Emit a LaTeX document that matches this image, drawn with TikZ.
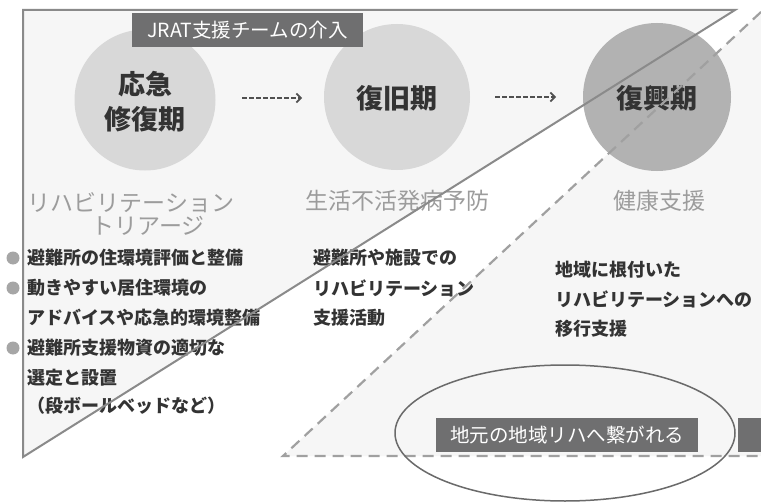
\documentclass[tikz,border=0pt]{standalone}
\usepackage{fontspec}
\setmainfont{Noto Sans CJK JP}
\usetikzlibrary{arrows.meta,shapes.geometric}
\definecolor{bgfill}{HTML}{F6F6F6}
\definecolor{circlight}{HTML}{D8D8D8}
\definecolor{circdark}{HTML}{B2B2B2}
\definecolor{darktext}{HTML}{333333}
\definecolor{graytext}{HTML}{9C9C9C}
\definecolor{labelbg}{HTML}{6F6F70}
\definecolor{framec}{HTML}{8A8A8A}
\definecolor{dashc}{HTML}{A0A0A0}
\definecolor{bulletc}{HTML}{A6A6A6}
\definecolor{ellc}{HTML}{6A6A6A}
\definecolor{arrowc}{HTML}{505050}
\begin{document}
\begin{tikzpicture}[x=1pt,y=-1pt,
  phase/.style={circle,draw=none,inner sep=0pt},
  phasetext/.style={text=darktext,font=\fontsize{27}{35}\selectfont\bfseries,align=center,inner sep=0pt},
  subtitle/.style={text=graytext,font=\fontsize{23}{26}\selectfont,inner sep=0pt},
  body/.style={text=darktext,font=\fontsize{18}{22}\selectfont\bfseries,anchor=west,inner sep=0pt},
  tag/.style={fill=labelbg,text=white,font=\fontsize{19.5}{22}\selectfont,inner sep=0pt,minimum height=34pt},
  flow/.style={draw=arrowc,line width=1.7pt,dash pattern=on 4.5pt off 2.5pt,-{Straight Barb[length=4.5pt,width=9pt,line width=1.7pt]}},
  solidframe/.style={draw=framec,line width=2pt,line join=miter},
  dashline/.style={draw=dashc,line width=2.2pt,dash pattern=on 11pt off 7pt},
  bulletdot/.style={circle,fill=bulletc,inner sep=0pt,minimum size=13pt}
]
\useasboundingbox (0,0) rectangle (761,503);
\fill[white] (0,0) rectangle (761,503);
% corner points
\coordinate (sTL) at (23,10);
\coordinate (sTR) at (735,10);
\coordinate (sBL) at (23,457);
\coordinate (dBL) at (283,456);
\coordinate (dBR) at (761,456);
\coordinate (dTR) at (761,12);
% background fills
\fill[bgfill] (sTL) -- (sTR) -- (sBL) -- cycle;
\fill[bgfill] (dBL) -- (dBR) -- (dTR) -- cycle;
% phase circles
\node[phase,fill=circlight,minimum size=141pt] (c1) at (145,100) {};
\node[phase,fill=circlight,minimum size=146pt] (c2) at (397,97) {};
\node[phase,fill=circdark,minimum size=148pt] (c3) at (657,97) {};
\node[phasetext] (t1) at (145,102) {応急\\修復期};
\node[phasetext] (t2) at (397,98) {復旧期};
\node[phasetext] (t3) at (657,98) {復興期};
% arrows
\coordinate (a1s) at (242,98);
\coordinate (a1e) at (302,98);
\coordinate (a2s) at (495,97);
\coordinate (a2e) at (556,97);
\draw[flow] (a1s) -- (a1e);
\draw[flow] (a2s) -- (a2e);
% subtitles
\node[subtitle] (s1a) at (131,203) {リハビリテーション};
\node[subtitle] (s1b) at (148,226) {トリアージ};
\node[subtitle] (s2) at (397,201) {生活不活発病予防};
\node[subtitle] (s3) at (659,201) {健康支援};
% bullets and body text
\node[bulletdot] (d1) at (13,258) {};
\node[bulletdot] (d2) at (13,288) {};
\node[bulletdot] (d3) at (13,348) {};
\node[body] (l1) at (27,258) {避難所の住環境評価と整備};
\node[body] (l2) at (27,288) {動きやすい居住環境の};
\node[body] (l3) at (27,318) {アドバイスや応急的環境整備};
\node[body] (l4) at (27,348) {避難所支援物資の適切な};
\node[body] (l5) at (27,378) {選定と設置};
\node[body] (l6) at (27,406) {（段ボールベッドなど）};
\node[body] (m1) at (313,258) {避難所や施設での};
\node[body] (m2) at (313,288) {リハビリテーション};
\node[body] (m3) at (313,318) {支援活動};
\node[body] (r1) at (555,270) {地域に根付いた};
\node[body] (r2) at (555,299) {リハビリテーションへの};
\node[body] (r3) at (555,329) {移行支援};
% frame lines
\draw[solidframe] (sTR) -- (sTL) -- (sBL) -- cycle;
\draw[dashline] (dTR) -- (dBL) -- (dBR);
% tags
\node[tag,minimum width=231pt] (jrat) at (247.5,30) {JRAT支援チームの介入};
\node[draw=ellc,line width=1.5pt,ellipse,minimum width=340pt,minimum height=136pt,inner sep=0pt] (ell) at (565,433) {};
\node[tag,minimum width=262pt] (local) at (567,435) {地元の地域リハへ繋がれる};
\node[fill=labelbg,inner sep=0pt,minimum width=30pt,minimum height=34pt,anchor=west] (stub) at (738,435) {};
\end{tikzpicture}
\end{document}
